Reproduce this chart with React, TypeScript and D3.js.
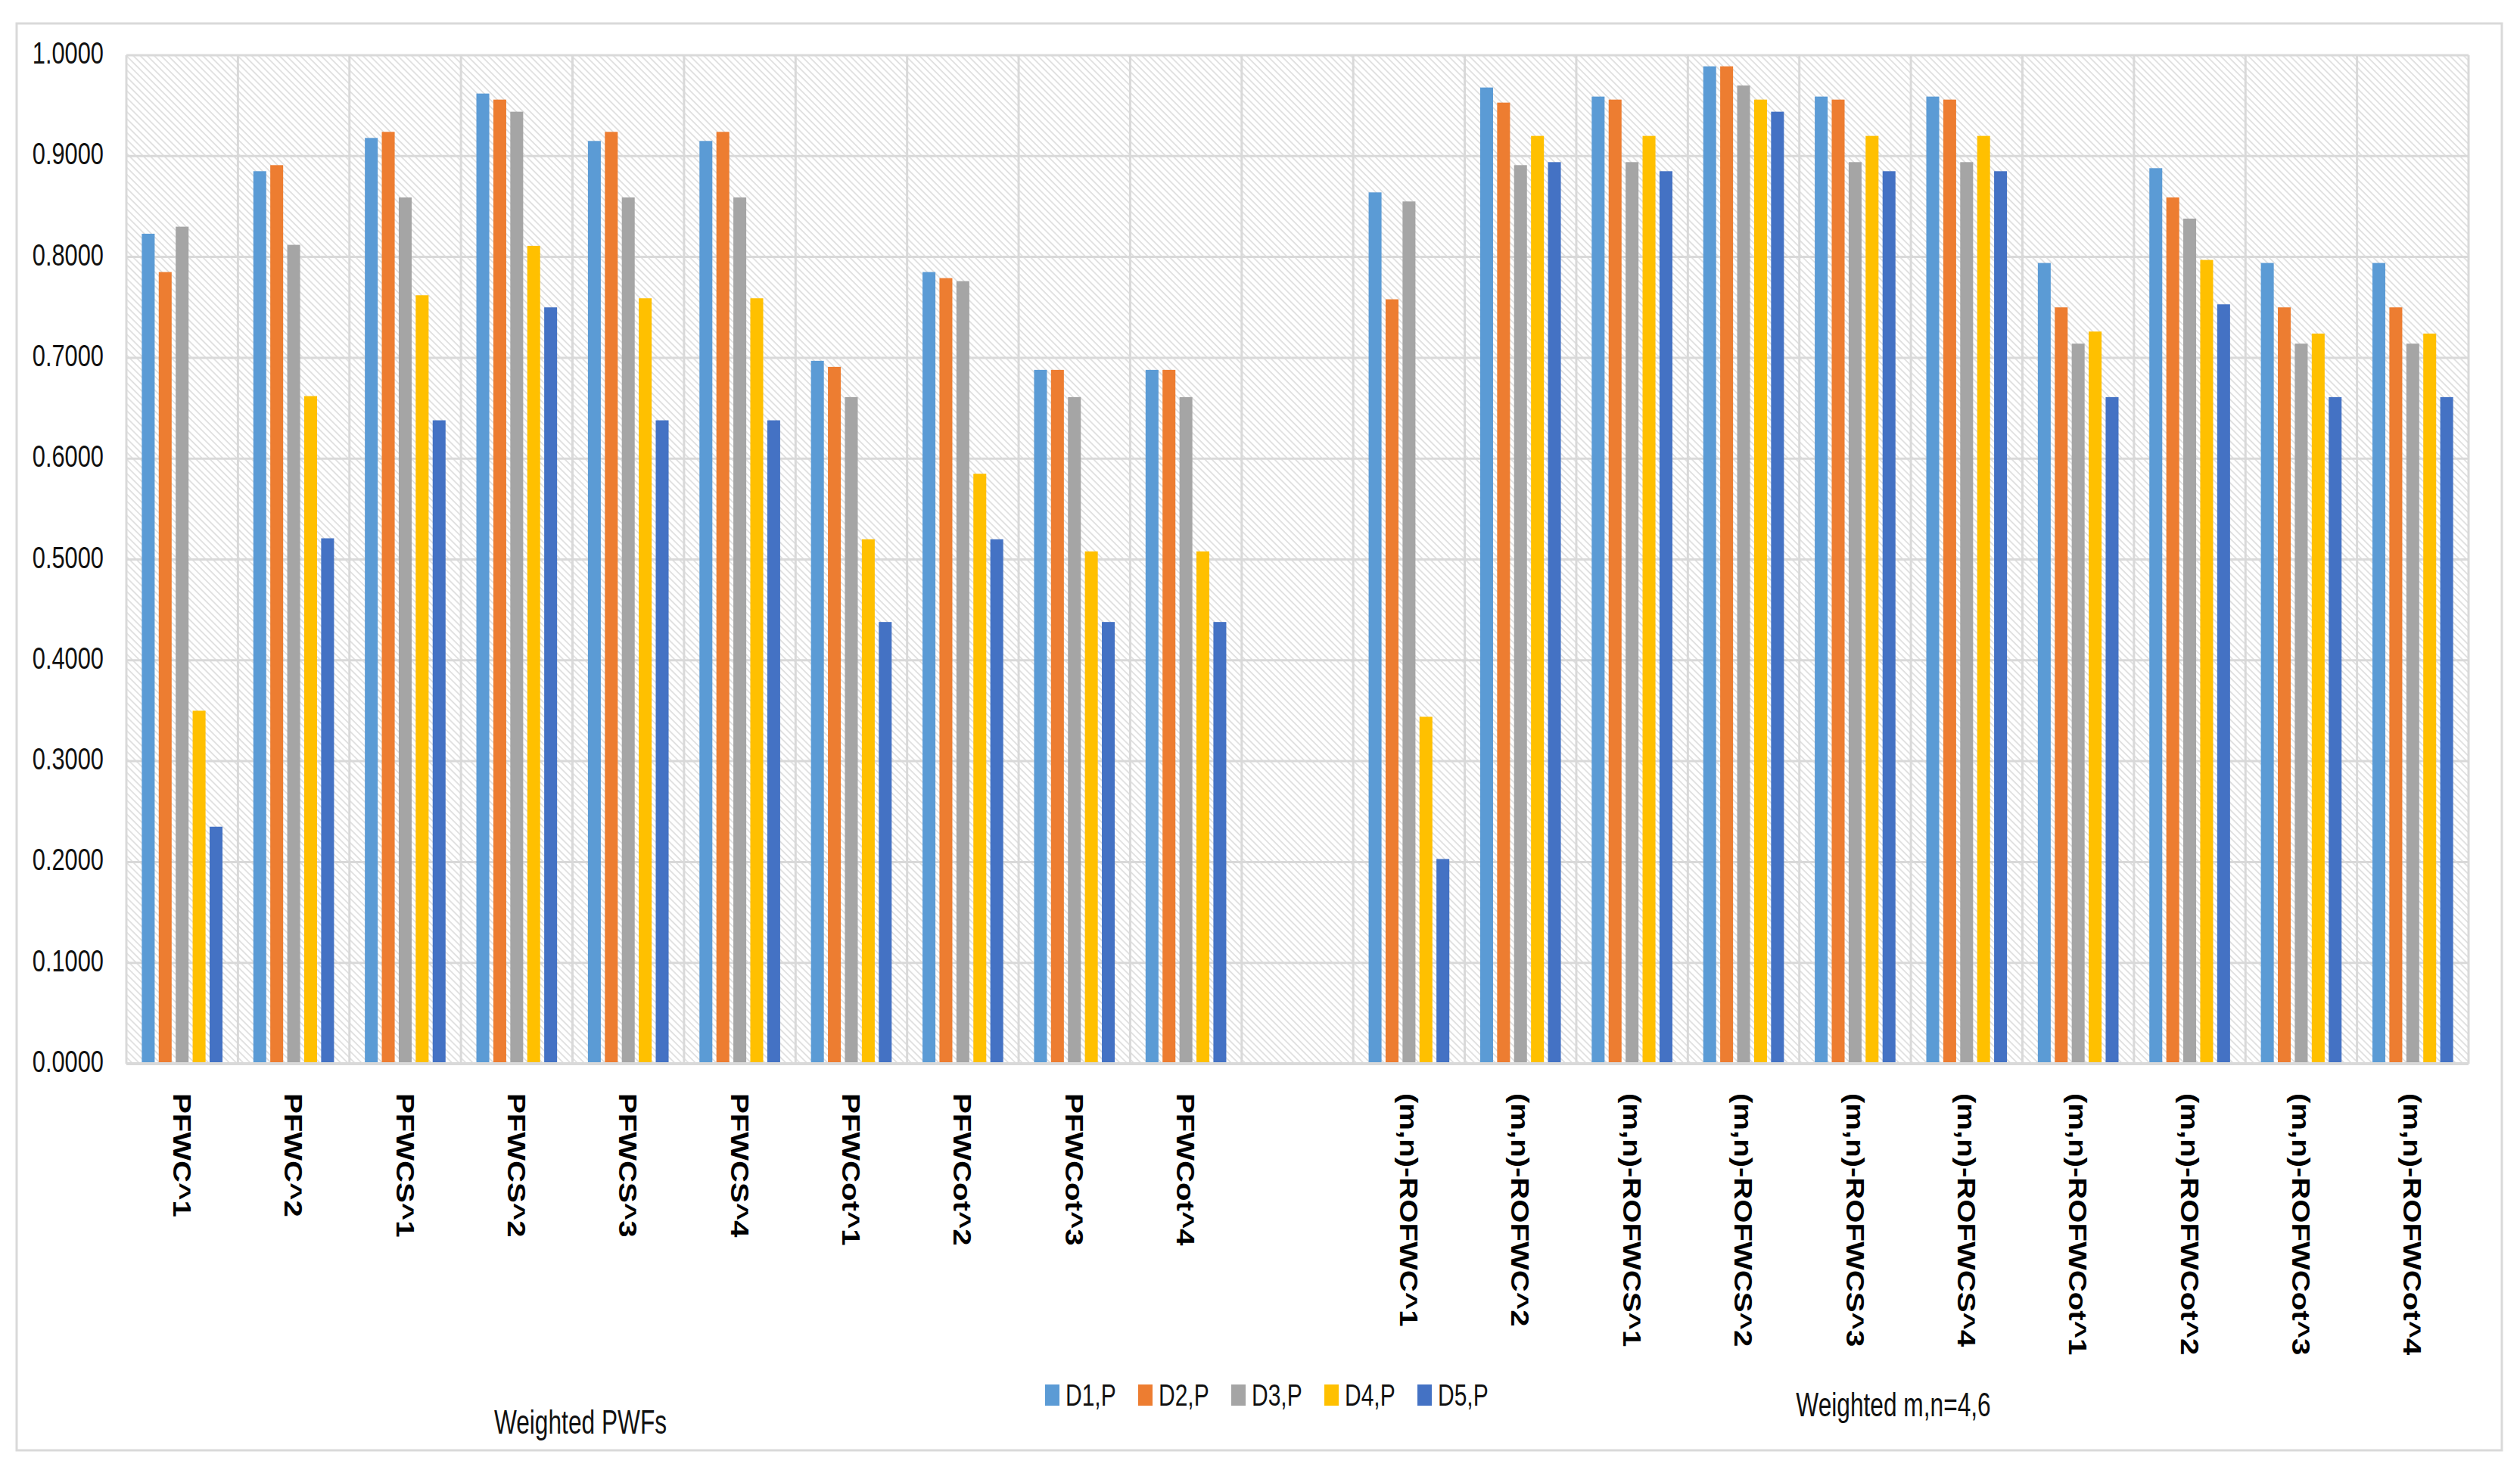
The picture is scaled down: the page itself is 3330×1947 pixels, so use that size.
import React from "react";
import * as d3 from "d3";

const categories = [
  "PFWC^1", "PFWC^2", "PFWCS^1", "PFWCS^2", "PFWCS^3", "PFWCS^4",
  "PFWCot^1", "PFWCot^2", "PFWCot^3", "PFWCot^4",
  "",
  "(m,n)-ROFWC^1", "(m,n)-ROFWC^2", "(m,n)-ROFWCS^1", "(m,n)-ROFWCS^2",
  "(m,n)-ROFWCS^3", "(m,n)-ROFWCS^4", "(m,n)-ROFWCot^1", "(m,n)-ROFWCot^2",
  "(m,n)-ROFWCot^3", "(m,n)-ROFWCot^4",
];

const seriesNames = ["D1,P", "D2,P", "D3,P", "D4,P", "D5,P"];
const seriesColors = ["#5B9BD5", "#ED7D31", "#A5A5A5", "#FFC000", "#4472C4"];

const valuesD1 = [0.823, 0.885, 0.918, 0.962, 0.915, 0.915, 0.697, 0.785, 0.688, 0.688, null,
  0.864, 0.968, 0.959, 0.989, 0.959, 0.959, 0.794, 0.888, 0.794, 0.794];
const valuesD2 = [0.785, 0.891, 0.924, 0.956, 0.924, 0.924, 0.691, 0.779, 0.688, 0.688, null,
  0.758, 0.953, 0.956, 0.989, 0.956, 0.956, 0.750, 0.859, 0.750, 0.750];
const valuesD3 = [0.830, 0.812, 0.859, 0.944, 0.859, 0.859, 0.661, 0.776, 0.661, 0.661, null,
  0.855, 0.891, 0.894, 0.970, 0.894, 0.894, 0.714, 0.838, 0.714, 0.714];
const valuesD4 = [0.350, 0.662, 0.762, 0.811, 0.759, 0.759, 0.520, 0.585, 0.508, 0.508, null,
  0.344, 0.920, 0.920, 0.956, 0.920, 0.920, 0.726, 0.797, 0.724, 0.724];
const valuesD5 = [0.235, 0.521, 0.638, 0.750, 0.638, 0.638, 0.438, 0.520, 0.438, 0.438, null,
  0.203, 0.894, 0.885, 0.944, 0.885, 0.885, 0.661, 0.753, 0.661, 0.661];

const yTicks = [0, 0.1, 0.2, 0.3, 0.4, 0.5, 0.6, 0.7, 0.8, 0.9, 1.0];
const groupLabels = ["Weighted PWFs", "Weighted m,n=4,6"];

const W = 3330;
const H = 1947;
const plot = { left: 167, right: 3262, top: 73, bottom: 1406 };
const grid = "#d9d9d9";
const font = "'Liberation Sans', Arial, sans-serif";

export default function App() {
  const series = [valuesD1, valuesD2, valuesD3, valuesD4, valuesD5];
  const x = d3.scaleBand()
    .domain(categories.map((c, i) => `${i}`))
    .range([plot.left, plot.right])
    .paddingInner(0)
    .paddingOuter(0);
  const y = d3.scaleLinear().domain([0, 1]).range([plot.bottom, plot.top]);
  const bw = x.bandwidth();
  const step = bw * 0.152;
  const barW = step * 0.76;
  const inner = d3.scaleBand()
    .domain(d3.range(5).map(String))
    .range([bw / 2 - step * 2.5, bw / 2 + step * 2.5]);

  return (
    <svg width={W} height={H} style={{ display: "block", position: "absolute", left: 0, top: 0, background: "#fff" }}>
      <defs>
        <pattern id="hatch" width="6.5" height="6.5" patternUnits="userSpaceOnUse" patternTransform="rotate(-45)">
          <rect width="6.5" height="6.5" fill="#ffffff" />
          <line x1="1" y1="0" x2="1" y2="6.5" stroke="#dadada" strokeWidth="1.5" />
        </pattern>
      </defs>
      <rect x={0} y={0} width={W} height={H} fill="#fff" />
      <rect x={22} y={31} width={3284} height={1886} fill="#fff" stroke={grid} strokeWidth={3} />

      <rect x={plot.left} y={plot.top} width={plot.right - plot.left} height={plot.bottom - plot.top} fill="url(#hatch)" />

      {yTicks.map((t) => (
        <line key={"h" + t} x1={plot.left} x2={plot.right} y1={y(t)} y2={y(t)} stroke={grid} strokeWidth={3} />
      ))}
      {d3.range(categories.length + 1).map((i) => {
        const xx = i < categories.length ? (x(`${i}`) as number) : plot.right;
        return <line key={"v" + i} x1={xx} x2={xx} y1={plot.top} y2={plot.bottom} stroke={grid} strokeWidth={3} />;
      })}

      {series.map((vals, si) =>
        vals.map((v, ci) =>
          v == null ? null : (
            <rect
              key={`b${si}-${ci}`}
              x={(x(`${ci}`) as number) + (inner(`${si}`) as number) + (step - barW) / 2}
              y={y(v)}
              width={barW}
              height={y(0) - y(v)}
              fill={seriesColors[si]}
            />
          )
        )
      )}

      <line x1={plot.left} x2={plot.right} y1={plot.bottom} y2={plot.bottom} stroke={grid} strokeWidth={4} />

      {yTicks.map((t) => (
        <text
          key={"t" + t}
          transform={`translate(137,${y(t) + 11}) scale(0.77,1)`}
          textAnchor="end"
          fontFamily={font}
          fontSize={40}
          fill="#111"
        >
          {t.toFixed(4)}
        </text>
      ))}

      {categories.map((c, i) =>
        c === "" ? null : (
          <text
            key={"c" + i}
            transform={`translate(${(x(`${i}`) as number) + bw / 2},1445) rotate(90) scale(1.18,1)`}
            textAnchor="start"
            dominantBaseline="central"
            fontFamily={font}
            fontWeight="bold"
            fontSize={34}
            fill="#000"
          >
            {c}
          </text>
        )
      )}

      {seriesNames.map((s, i) => (
        <g key={"l" + i} transform={`translate(${1381 + i * 123},0)`}>
          <rect x={0} y={1830} width={19} height={28} fill={seriesColors[i]} />
          <text transform={`translate(27,1858) scale(0.75,1)`} fontFamily={font} fontSize={40} fill="#111">
            {s}
          </text>
        </g>
      ))}

      <text transform={`translate(767,1895) scale(0.72,1)`} textAnchor="middle" fontFamily={font} fontSize={44} fill="#111">
        {groupLabels[0]}
      </text>
      <text transform={`translate(2502,1872) scale(0.72,1)`} textAnchor="middle" fontFamily={font} fontSize={44} fill="#111">
        {groupLabels[1]}
      </text>
    </svg>
  );
}
